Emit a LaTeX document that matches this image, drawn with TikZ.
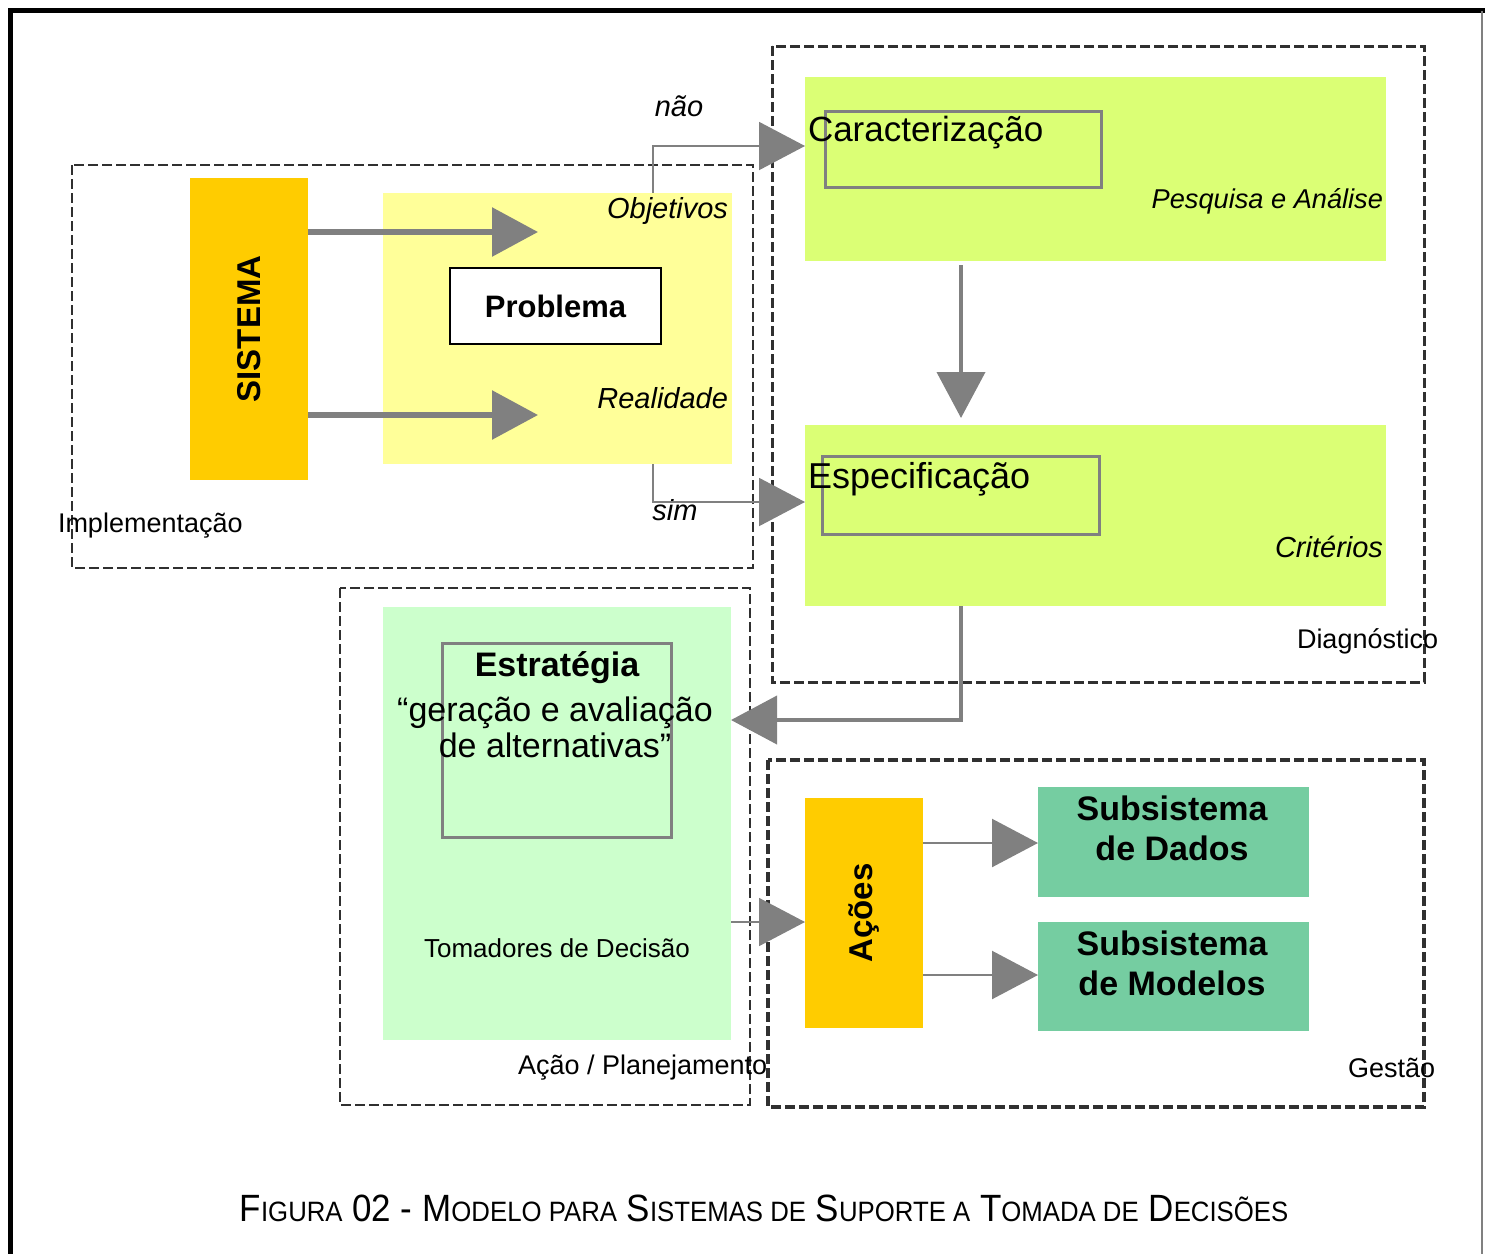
\documentclass[tikz,border=0pt]{standalone}
\usepackage{fontspec}
\setmainfont{Liberation Sans}
\usepackage{tikz}
\usetikzlibrary{arrows.meta}

\definecolor{laranja}{HTML}{FFCC00}
\definecolor{amarelo}{HTML}{FFFF99}
\definecolor{lima}{HTML}{DBFF75}
\definecolor{verdeclaro}{HTML}{CCFFCC}
\definecolor{verdeagua}{HTML}{75CDA1}
\definecolor{cinza}{HTML}{808080}
\definecolor{tracejado}{HTML}{303030}

\newcommand{\fs}[2]{\fontsize{#1}{#2}\selectfont}
\newcommand{\versal}[1]{{\fontsize{14}{16}\selectfont #1}}

\begin{document}
\begin{tikzpicture}[x=0.5pt, y=-0.5pt,
    seta/.style={draw=cinza, line width=1pt, -{Triangle[length=23pt, width=24pt]}},
    quadro/.style={draw=tracejado, dash pattern=on 5pt off 2pt, line width=1pt}]
  \useasboundingbox (0,0) rectangle (1485,1254);

  % moldura da figura
  \draw[line width=2.5pt] (10.5,1254) -- (10.5,10.5) -- (1485,10.5);
  \draw[cinza, line width=1pt] (1482,10.5) -- (1482,1254);

  % quadros tracejados
  \draw[quadro] (72,165) rectangle (753,568);
  \draw[quadro, line width=1.5pt] (772,46) rectangle (1424,682);
  \draw[quadro, line width=1.3pt] (340,588) rectangle (750,1105);
  \draw[quadro, line width=2pt] (768,760) rectangle (1424,1107);

  \begin{scope}[every node/.style={inner sep=0, outer sep=0}]
    \node[fill=laranja, minimum width=59pt, minimum height=151pt] (sis) at (249,329) {\rotatebox{90}{\fs{16.5}{18}\bfseries SISTEMA}};
    \node[fill=amarelo, minimum width=174.5pt, minimum height=135.5pt] (amar) at (557.5,328.5) {};
    \node[fill=white, draw=black, line width=1.4pt, minimum width=105.5pt, minimum height=38pt] (prob) at (555.5,306) {\fs{15.5}{18}\bfseries Problema};
    \node[fill=lima, minimum width=290.5pt, minimum height=92pt] (carac) at (1095.5,169) {};
    \node[draw=cinza, line width=1.5pt, minimum width=138pt, minimum height=38pt] (caracq) at (963,149) {};
    \node[fill=lima, minimum width=290.5pt, minimum height=90.5pt] (espec) at (1095.5,515.5) {};
    \node[draw=cinza, line width=1.5pt, minimum width=138.5pt, minimum height=39pt] (specq) at (960.5,495) {};
    \node[fill=verdeclaro, minimum width=174pt, minimum height=216.5pt] (plano) at (557,823.5) {};
    \node[draw=cinza, line width=1.5pt, minimum width=114.5pt, minimum height=97pt] (estq) at (556.5,740) {};
    \node[fill=laranja, minimum width=59pt, minimum height=115pt] (acoes) at (864,913) {\rotatebox{90}{\fs{16.5}{18}\bfseries Ações}};
    \node[fill=verdeagua, minimum width=135.5pt, minimum height=55pt] (dados) at (1173.5,842) {};
    \node[fill=verdeagua, minimum width=135.5pt, minimum height=54.5pt] (modelos) at (1173.5,976.5) {};
  \end{scope}

  \begin{scope}[every node/.style={inner sep=0, outer sep=0, font=\fs{14.5}{17}\itshape}]
    \node[anchor=east] (obj) at (728,211) {Objetivos};
    \node[anchor=east] (real) at (728,398) {Realidade};
    \node (nao) at (679,106) {não};
    \node (sim) at (675,510) {sim};
    \node[anchor=east, font=\fs{13.6}{16}\itshape] (pesq) at (1383,201) {Pesquisa e Análise};
    \node[anchor=east] (crit) at (1383,547) {Critérios};
  \end{scope}

  \begin{scope}[every node/.style={inner sep=0, outer sep=0, font=\fs{13.5}{16}}]
    \node[anchor=west] (impl) at (58,526) {Implementação};
    \node[anchor=west] (diag) at (1297,641) {Diagnóstico};
    \node[anchor=west] (plan) at (518,1068) {Ação / Planejamento};
    \node[anchor=west] (gest) at (1348,1068) {Gestão};
    \node[font=\fs{13}{16}] (tom) at (557,948) {Tomadores de Decisão};
    \node[anchor=west, font=\fs{17.5}{20}] (caract) at (808,133) {Caracterização};
    \node[anchor=west, font=\fs{18}{20}] (espect) at (808,479) {Especificação};
    \node[font=\fs{17}{20}\bfseries] (estrat) at (557,668) {Estratégia};
    \node[align=center, font=\fs{17}{18}] (geracao) at (555,727) {“geração e avaliação\\de alternativas”};
    \node[align=center, font=\fs{17}{20}\bfseries] (dadost) at (1172,828) {Subsistema\\de Dados};
    \node[align=center, font=\fs{17}{20}\bfseries] (modelost) at (1172,963) {Subsistema\\de Modelos};
    \node[font=\fs{19}{22}] (legenda) at (764,1208) {\scalebox{0.92}[1]{F\versal{IGURA} 02 - M\versal{ODELO PARA} S\versal{ISTEMAS DE} S\versal{UPORTE A} T\versal{OMADA DE} D\versal{ECISÕES}}};
  \end{scope}

  % setas
  \coordinate (c1) at (538,232);
  \coordinate (c2) at (538,415);
  \coordinate (xn) at (653,146);
  \coordinate (xs) at (653,502);
  \coordinate (xd) at (961,720);
  \coordinate (xa) at (731,922);
  \coordinate (xdd) at (923,843);
  \coordinate (xmm) at (923,975);
  \draw[seta, line width=3pt] (sis.east |- c1) -- (c1);
  \draw[seta, line width=3pt] (sis.east |- c2) -- (c2);
  \draw[seta] (amar.north -| xn) |- (carac.west |- xn);
  \draw[seta] (amar.south -| xs) |- (espec.west |- xs);
  \draw[seta, line width=2pt, shorten >=3.5pt, shorten <=2pt] (carac.south -| xd) -- (espec.north -| xd);
  \draw[seta, line width=2pt] (espec.south -| xd) |- (plano.east |- xd);
  \draw[seta, line width=0.8pt] (plano.east |- xa) -- (acoes.west |- xa);
  \draw[seta, line width=1.2pt] (acoes.east |- xdd) -- (dados.west |- xdd);
  \draw[seta, line width=1.2pt] (acoes.east |- xmm) -- (modelos.west |- xmm);
\end{tikzpicture}
\end{document}
